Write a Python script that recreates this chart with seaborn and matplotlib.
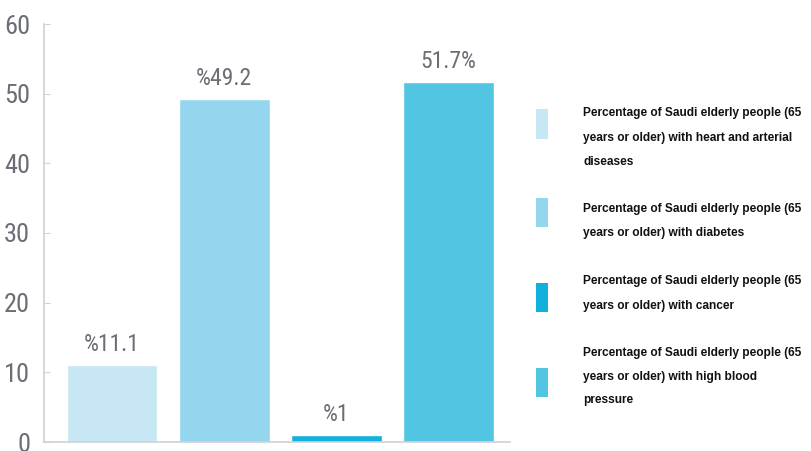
import matplotlib
matplotlib.use("Agg")
import matplotlib.pyplot as plt
from matplotlib.patches import Rectangle
import seaborn as sns
import pandas as pd

categories = ["Heart and arterial diseases", "Diabetes", "Cancer", "High blood pressure"]
values = [11.1, 49.2, 1, 51.7]
value_labels = ["%11.1", "%49.2", "%1", "51.7%"]
colors = ["#c6e7f3", "#94d6ed", "#12b0dc", "#52c5e3"]
legend_lines = [
    ["Percentage of Saudi elderly people (65", "years or older) with heart and arterial", "diseases"],
    ["Percentage of Saudi elderly people (65", "years or older) with diabetes"],
    ["Percentage of Saudi elderly people (65", "years or older) with cancer"],
    ["Percentage of Saudi elderly people (65", "years or older) with high blood", "pressure"],
]
yticks = [0, 10, 20, 30, 40, 50, 60]

sns.set_style("white")
W, H = 811, 451
fig = plt.figure(figsize=(W / 100, H / 100), dpi=100)
ax = fig.add_axes([44 / W, 9 / H, (510 - 44) / W, (442 - 24) / H])

df = pd.DataFrame({"cat": categories, "val": values})
sns.barplot(data=df, x="cat", y="val", hue="cat", palette=colors, legend=False,
            width=0.81, saturation=1, ax=ax)

narrow = ["Roboto Condensed", "DejaVu Sans"]
for i, (v, lab) in enumerate(zip(values, value_labels)):
    ax.text(i, v + 1.3, lab, ha="center", va="bottom", fontsize=17,
            color="#6b6e75", family=narrow)

ax.set_xlim(-0.607, 3.55)
ax.set_ylim(0, 60)
ax.set_yticks(yticks)
ax.set_yticklabels([str(t) for t in yticks], fontsize=19, color="#6b6e75", family=narrow)
ax.set_xticks([])
ax.set_xlabel("")
ax.set_ylabel("")
for s in ["top", "right"]:
    ax.spines[s].set_visible(False)
for s in ["left", "bottom"]:
    ax.spines[s].set_color("#cfd1d4")
    ax.spines[s].set_linewidth(1.2)
ax.tick_params(axis="y", direction="in", length=4, color="#cfd1d4", pad=10, left=True)

# legend
patch_centers = [124, 212, 297, 382]
line_ys = [[113, 138, 162], [209, 233], [281, 306], [353, 377, 400]]
for col, pc, lines, ys in zip(colors, patch_centers, legend_lines, line_ys):
    fig.add_artist(Rectangle((536 / W, 1 - (pc + 14.5) / H), 12 / W, 29 / H,
                             transform=fig.transFigure, facecolor=col, edgecolor="none"))
    for ln, y in zip(lines, ys):
        fig.text(583 / W, 1 - y / H, ln, ha="left", va="center", fontsize=8.6,
                 fontweight="bold", color="#111111", family=["Liberation Sans", "DejaVu Sans"])

fig.savefig("out.png", dpi=100)
